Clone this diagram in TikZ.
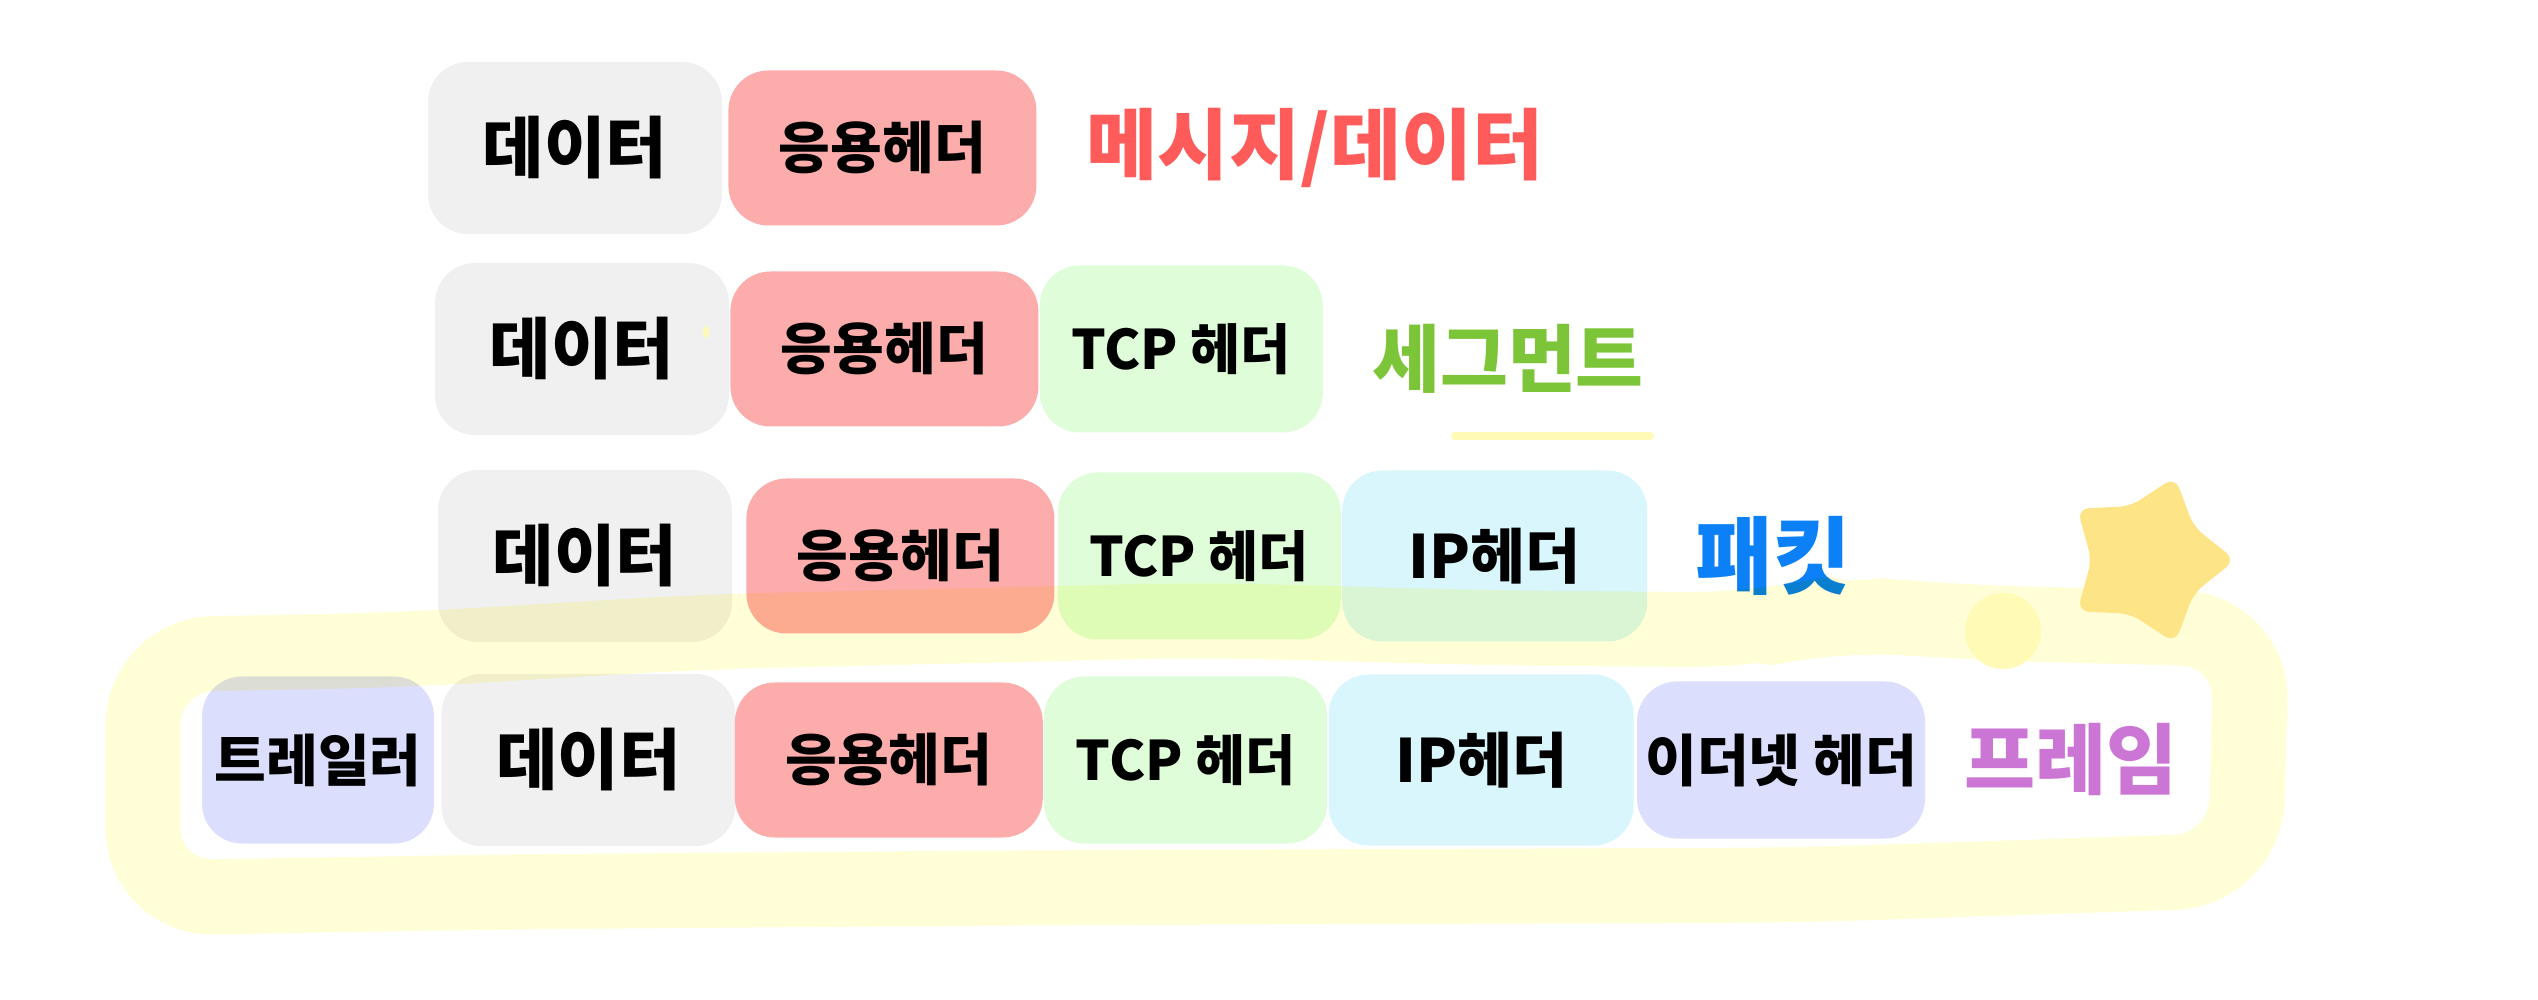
\documentclass[tikz,border=0pt]{standalone}
\usepackage{fontspec}
\newfontfamily\kr{Noto Sans CJK KR}
\usepackage{tikz}
\usetikzlibrary{positioning,shapes.geometric}

\definecolor{datagray}{HTML}{F0F0F0}
\definecolor{apppink}{HTML}{FDACAC}
\definecolor{tcpgreen}{HTML}{DFFDD9}
\definecolor{ipcyan}{HTML}{D9F6FD}
\definecolor{ethlav}{HTML}{DCDEFD}
\definecolor{msgred}{HTML}{FF5B5B}
\definecolor{seggreen}{HTML}{7DC538}
\definecolor{pktblue}{HTML}{0B80F7}
\definecolor{framepurple}{HTML}{CB76D5}
\definecolor{hiyellow}{HTML}{FFFED6}
\definecolor{dotyellow}{HTML}{FFFAB6}
\definecolor{staryellow}{HTML}{FDE486}

\newcommand{\krsize}[1]{\kr\bfseries\fontsize{#1}{#1}\selectfont}

\begin{document}
\begin{tikzpicture}[
    node distance=0pt,
    cell/.style={rounded corners=0.4cm, inner sep=0pt, align=center, font=\krsize{16}},
    datacell/.style={cell, fill=datagray, minimum width=2.94cm, minimum height=1.72cm, font=\krsize{19}},
    appcell/.style={cell, fill=apppink, minimum width=3.08cm, minimum height=1.55cm},
    tcpcell/.style={cell, fill=tcpgreen, minimum width=2.83cm, minimum height=1.67cm, font=\krsize{15.5}},
    ipcell/.style={cell, fill=ipcyan, minimum width=3.05cm, minimum height=1.71cm, font=\krsize{17}},
    ethcell/.style={cell, fill=ethlav, minimum width=2.88cm, minimum height=1.57cm},
    trailcell/.style={cell, fill=ethlav, minimum width=2.32cm, minimum height=1.67cm},
    layername/.style={inner sep=0pt, font=\krsize{22}},
    ring/.style={draw=hiyellow, line width=0.75cm, rounded corners=0.7cm, line join=round}
]
\useasboundingbox (0,0) rectangle (25.38,-10);

% message
\node[datacell] (data1) at (5.75,-1.48) {데이터};
\node[appcell, right=0.05cm of data1] (app1) {응용헤더};
\node[layername, text=msgred, right=0.49cm of app1] (msg) {메시지/데이터};

% segment
\node[datacell] (data2) at (5.82,-3.49) {데이터};
\node[appcell, right=of data2] (app2) {응용헤더};
\node[tcpcell, right=of app2] (tcp2) {TCP 헤더};
\node[layername, text=seggreen, font=\krsize{21}, right=0.48cm of tcp2, yshift=-1mm] (seg) {세그먼트};
\fill[dotyellow] (7.06,-3.32) ellipse (0.03cm and 0.06cm);
\draw[draw=dotyellow, line width=0.08cm, line cap=round] (14.55,-4.36) -- (16.50,-4.36);

% packet
\node[datacell] (data3) at (5.85,-5.56) {데이터};
\node[appcell, right=0.13cm of data3] (app3) {응용헤더};
\node[tcpcell, right=0.02cm of app3] (tcp3) {TCP 헤더};
\node[ipcell, right=of tcp3] (ip3) {IP헤더};
\node[layername, text=pktblue, font=\krsize{24}, right=0.47cm of ip3] (pkt) {패킷};

% frame
\node[trailcell] (trail4) at (3.18,-7.60) {트레일러};
\node[datacell, right=0.06cm of trail4] (data4) {데이터};
\node[appcell, right=-0.02cm of data4] (app4) {응용헤더};
\node[tcpcell, right=of app4] (tcp4) {TCP 헤더};
\node[ipcell, right=of tcp4] (ip4) {IP헤더};
\node[ethcell, right=0.02cm of ip4] (eth4) {이더넷 헤더};
\node[layername, text=framepurple, right=0.38cm of eth4] (frame) {프레임};

% highlight round the frame row
\begin{scope}[blend mode=multiply]
\draw[ring] (1.43,-6.55) -- (4.0,-6.50) -- (7.0,-6.32) -- (10.0,-6.25) -- (12.0,-6.20)
    -- (15.0,-6.28) -- (17.6,-6.30) -- (18.4,-6.12) -- (19.5,-6.22) -- (22.52,-6.30)
    -- (22.45,-8.70) -- (18,-8.85) -- (10,-8.88) -- (5,-8.92) -- (1.43,-8.98) -- cycle;
\end{scope}
\fill[dotyellow] (20.03,-6.31) circle (0.38cm);
\node[star, star points=5, star point ratio=1.55, shape border rotate=-18, minimum size=1.75cm,
    inner sep=0pt, fill=staryellow, rounded corners=0.12cm] (deco) at (21.48,-5.60) {};
\end{tikzpicture}
\end{document}
